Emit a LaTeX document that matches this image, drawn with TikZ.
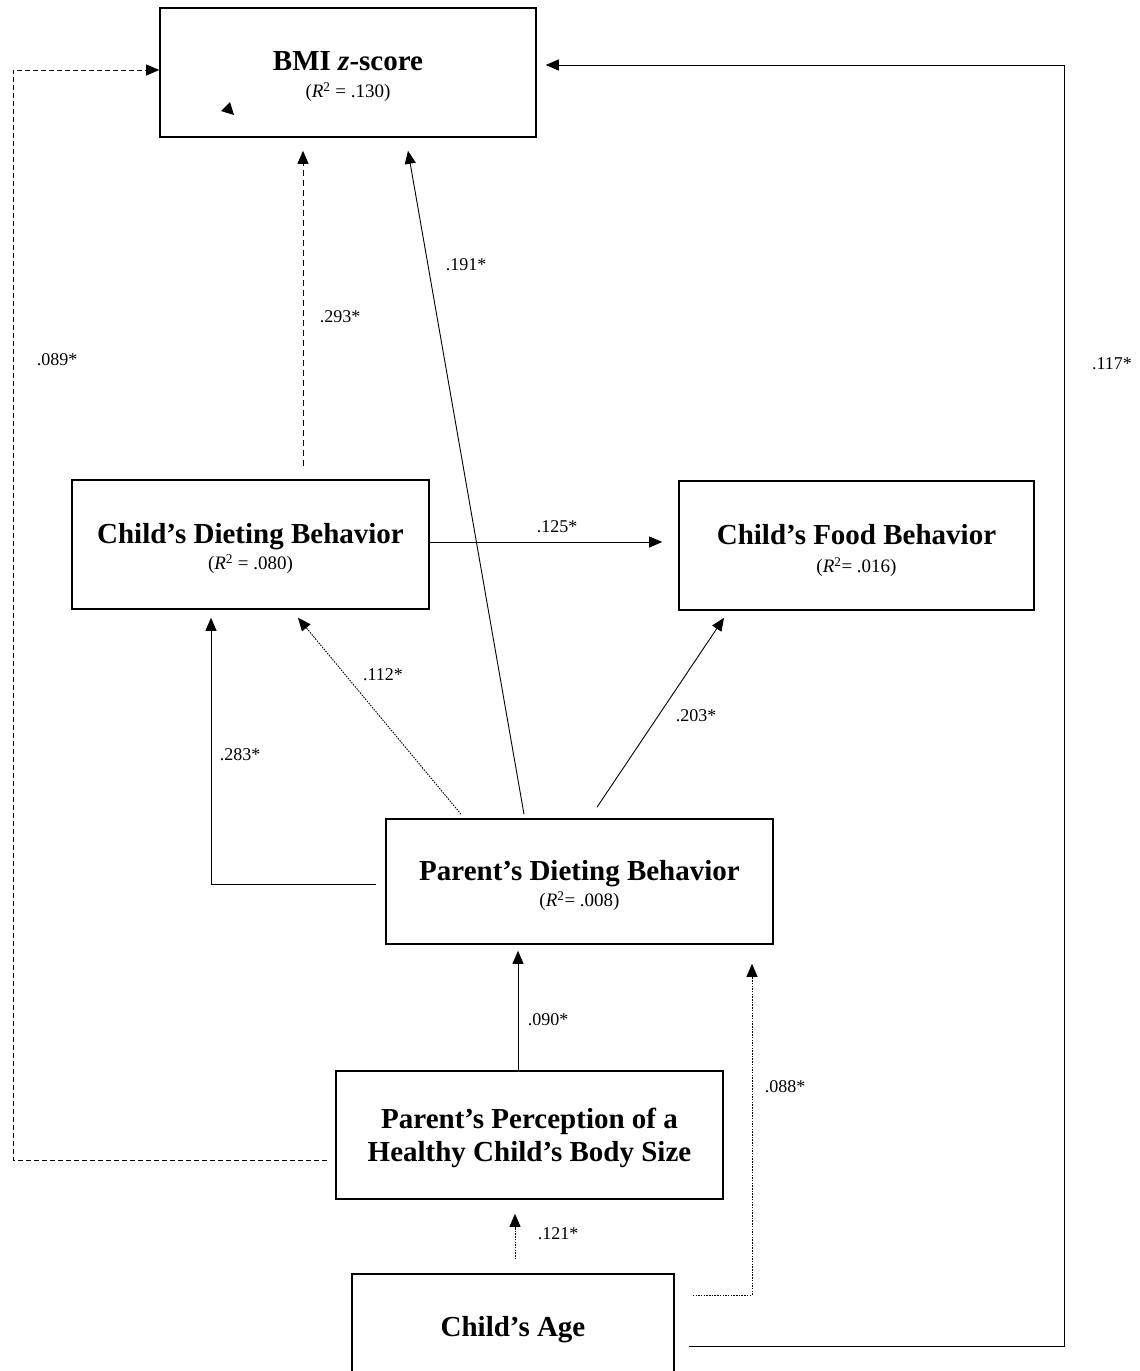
\documentclass[tikz,border=0pt]{standalone}
\usepackage{fontspec}
\setmainfont{Liberation Serif}
\usetikzlibrary{arrows.meta,calc}
\begin{document}
\begin{tikzpicture}[x=1pt,y=-1pt,
  box/.style={draw, line width=1.6pt, inner sep=0pt},
  boxtext/.style={inner sep=0pt, align=center,
    font=\fontsize{29}{33.5}\selectfont\bfseries},
  lab/.style={font=\fontsize{18}{20}\selectfont, inner sep=0pt},
  conn/.style={line width=0.9pt},
  arr/.style={conn, -{Triangle[length=13pt,width=11pt]}},
  dsh/.style={dash pattern=on 6pt off 4pt},
  dsh2/.style={dash pattern=on 5pt off 3pt},
  dot/.style={dash pattern=on 1.5pt off 1.2pt}
]
\useasboundingbox (0,0) rectangle (1140,1371);
\clip (0,0) rectangle (1140,1371);
\newcommand{\rs}[1]{{\fontsize{19}{20}\selectfont\mdseries(\textit{R}\textsuperscript{2}#1)}}

\node[box, minimum width=376pt, minimum height=129pt] (bmi) at (348,72.5) {};
\node[box, minimum width=357pt, minimum height=129pt] (cdb) at (250.5,544.5) {};
\node[box, minimum width=355pt, minimum height=129pt] (cfb) at (856.5,545.5) {};
\node[box, minimum width=387pt, minimum height=125pt] (pd) at (579.5,881.5) {};
\node[box, minimum width=387pt, minimum height=128pt] (perc) at (529.5,1135) {};
\node[box, minimum width=322pt, minimum height=106pt] (age) at (513,1327) {};

\node[boxtext] (bmi-t) at ([yshift=-4pt]bmi.center)
  {BMI \textit{z}-score\\[-6pt]\rs{ = .130}};
\node[boxtext] (cdb-t) at ([yshift=-4pt]cdb.center)
  {Child’s Dieting Behavior\\[-8pt]\rs{ = .080}};
\node[boxtext] (cfb-t) at ([yshift=-5pt]cfb.center)
  {Child’s Food Behavior\\[-6pt]\rs{= .016}};
\node[boxtext] (pd-t) at ([yshift=-4pt]pd.center)
  {Parent’s Dieting Behavior\\[-8pt]\rs{= .008}};
\node[boxtext] (perc-t) at ([yshift=-3pt]perc.center)
  {Parent’s Perception of a\\Healthy Child’s Body Size};
\node[boxtext] (age-t) at ([yshift=-3pt]age.center) {Child’s Age};

% stray arrowhead inside BMI box
\fill (221,111) -- (234,115) -- (230,102) -- cycle;

% connectors
\draw[arr,dsh] ([xshift=52.5pt,yshift=13pt]cdb.north) -- ([xshift=-45pt,yshift=-13pt]bmi.south);
\draw[arr] ([xshift=-55.5pt,yshift=4pt]pd.north) -- ([xshift=60pt,yshift=-13pt]bmi.south);
\draw[arr] ([yshift=2.5pt]cdb.east) -- ([xshift=-16pt,yshift=3.5pt]cfb.west);
\draw[arr,dot] ([xshift=-118.5pt,yshift=4pt]pd.north) -- ([xshift=47.5pt,yshift=-8pt]cdb.south);
\draw[arr] ([xshift=17.5pt,yshift=11pt]pd.north) -- ([xshift=-132.5pt,yshift=-7pt]cfb.south);
\draw[arr] ([xshift=-9pt,yshift=-2.5pt]pd.west) -| ([xshift=-39.5pt,yshift=-8pt]cdb.south);
\draw[arr] ([xshift=-11.5pt]perc.north) -- ([xshift=-61.5pt,yshift=-6pt]pd.south);
\draw[arr,dot] ([xshift=18pt,yshift=32pt]age.east) -| ([xshift=172.5pt,yshift=-19pt]pd.south);
\draw[arr,dot] ([xshift=2pt,yshift=14pt]age.north) -- ([xshift=-14.5pt,yshift=-14pt]perc.south);
\coordinate (lc) at (13,70);
\draw[arr,dsh2] ([xshift=-8pt,yshift=-25pt]perc.west) -| (lc) -- ([yshift=2.5pt]bmi.west);
\coordinate (rc) at (1064,65);
\draw[arr] ([xshift=14pt,yshift=-19pt]age.east) -| (rc) -- ([xshift=9pt,yshift=7.5pt]bmi.east);

% labels
\node[lab] (l191) at (466,265) {.191*};
\node[lab] (l293) at (340,317) {.293*};
\node[lab] (l089) at (57,360) {.089*};
\node[lab] (l117) at (1112,364) {.117*};
\node[lab] (l125) at (557,527) {.125*};
\node[lab] (l112) at (383,675) {.112*};
\node[lab] (l203) at (696,716) {.203*};
\node[lab] (l283) at (240,755) {.283*};
\node[lab] (l090) at (548,1020) {.090*};
\node[lab] (l088) at (785,1087) {.088*};
\node[lab] (l121) at (558,1234) {.121*};
\end{tikzpicture}
\end{document}
